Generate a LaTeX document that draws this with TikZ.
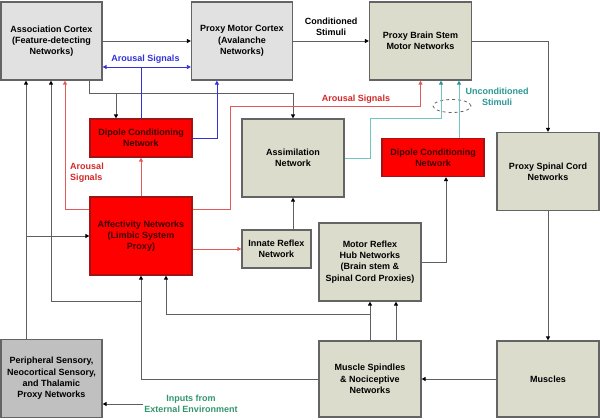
\documentclass[tikz,border=0pt]{standalone}
\usepackage{fontspec}
\setmainfont{Liberation Sans}
\usetikzlibrary{shapes.geometric, arrows.meta, positioning, calc}
\definecolor{cortex}{RGB}{225,225,225}
\definecolor{stem}{RGB}{219,220,203}
\definecolor{sensory}{RGB}{192,192,192}
\definecolor{limbic}{RGB}{255,0,0}
\definecolor{limbicdark}{RGB}{160,20,20}
\definecolor{limbictext}{RGB}{60,0,0}
\definecolor{edge}{RGB}{100,100,100}
\definecolor{wire}{RGB}{95,95,95}
\definecolor{arousal}{RGB}{228,90,90}
\definecolor{arousaltext}{RGB}{210,40,40}
\definecolor{signal}{RGB}{50,50,215}
\definecolor{uncond}{RGB}{115,195,190}
\definecolor{uncondtext}{RGB}{40,150,150}
\definecolor{envtext}{RGB}{50,150,110}
\tikzset{
    box/.style={rectangle, draw=edge, line width=1.2pt, align=center, font=\fontsize{9}{11.3}\selectfont\bfseries, inner sep=2pt},
    cortexbox/.style={box, fill=cortex, minimum width=101pt, minimum height=78pt},
    stembox/.style={box, fill=stem, minimum width=102pt, minimum height=78pt},
    dipolebox/.style={box, fill=limbic, draw=limbicdark, text=limbictext, minimum width=102pt, minimum height=38pt},
    limbicbox/.style={dipolebox, minimum height=78pt},
    groupring/.style={ellipse, draw=edge, dashed, line width=0.8pt, minimum width=38pt, minimum height=13pt, inner sep=0pt},
    lbl/.style={font=\fontsize{9}{11.3}\selectfont\bfseries, align=center, inner sep=1pt},
    arr/.style={-{Triangle[length=4pt, width=4pt, color=black]}, wire, line width=0.9pt},
    redarr/.style={-{Triangle[length=4pt, width=4pt]}, arousal, line width=0.9pt},
    bluearr/.style={-{Triangle[length=4pt, width=4pt]}, signal, line width=0.8pt},
    tealarr/.style={-{Triangle[length=4pt, width=4pt, color=uncondtext]}, uncond, line width=0.9pt}
}
\begin{document}
\begin{tikzpicture}[x=1pt, y=-1pt]
    \useasboundingbox (0,0) rectangle (600,420);
    % boxes
    \node[cortexbox] (assoc) at (51.5,41) {Association Cortex\\(Feature-detecting\\Networks)};
    \node[cortexbox] (pmc) at (242,41) {Proxy Motor Cortex\\(Avalanche\\Networks)};
    \node[stembox] (pbs) at (420.5,41) {Proxy Brain Stem\\Motor Networks};
    \node[dipolebox] (dipL) at (141,138) {Dipole Conditioning\\Network};
    \node[stembox] (assim) at (293,158) {Assimilation\\Network};
    \node[dipolebox] (dipR) at (433,157.5) {Dipole Conditioning\\Network};
    \node[stembox] (psc) at (548,171.5) {Proxy Spinal Cord\\Networks};
    \node[limbicbox] (affect) at (141,236) {Affectivity Networks\\(Limbic System\\Proxy)};
    \node[stembox, minimum width=69pt, minimum height=38pt] (innate) at (276.5,249) {Innate Reflex\\Network};
    \node[stembox] (mrh) at (370,262) {Motor Reflex\\Hub Networks\\(Brain stem \&\\Spinal Cord Proxies)};
    \node[cortexbox, fill=sensory] (periph) at (51.5,378.5) {Peripheral Sensory,\\Neocortical Sensory,\\and Thalamic\\Proxy Networks};
    \node[stembox, minimum height=76pt] (spindle) at (370,379) {Muscle Spindles\\\& Nociceptive\\Networks};
    \node[stembox, minimum height=76pt] (muscles) at (548,379) {Muscles};
    \node[groupring] (ring) at (452,106) {};

    % labels
    \node[lbl] (condlbl) at (331,27) {Conditioned\\Stimuli};
    \node[lbl, text=signal] (bluelbl) at (145.5,59) {Arousal Signals};
    \node[lbl, text=arousaltext] (redlbl) at (356,99) {Arousal Signals};
    \node[lbl, text=arousaltext, align=left] (redlbl2) at (87,173) {Arousal\\Signals};
    \node[lbl, text=uncondtext] (unclbl) at (497,97) {Unconditioned\\Stimuli};
    \node[lbl, text=envtext] (inp) at (191,404) {Inputs from\\External Environment};

    % junction points
    \coordinate (j1) at (89,93);
    \coordinate (j2) at (116,93);
    \coordinate (aru) at (141,67);
    \coordinate (r1) at (65,209);
    \coordinate (r2) at (230,106);
    \coordinate (t1) at (370,118);
    \coordinate (t2) at (441,118);
    \coordinate (t3) at (459,118);
    \coordinate (s1) at (370,314);
    \coordinate (s2) at (166,314);
    \coordinate (s3) at (141,301);
    \coordinate (s4) at (51,301);
    \coordinate (p1) at (26,236);

    % black connectors
    \draw[arr] (assoc) -- (pmc);
    \draw[arr] (pmc) -- (pbs);
    \draw[arr] (assoc.south -| j1) -- (j1) -| (assim.north);
    \draw[arr] (j2) -- (j2 |- dipL.north);
    \draw[arr] (innate.north -| assim) -- (assim.south);
    \draw[arr] (mrh.east) -| ($(dipR.south)+(13,0)$);
    \draw[arr] (pbs.east) -| (psc.north);
    \draw[arr] (psc) -- (muscles);
    \draw[arr] (muscles) -- (spindle);
    \draw[arr] (spindle.north) -- (mrh.south);
    \draw[arr] ($(spindle.north)+(26,0)$) -- ($(mrh.south)+(26,0)$);
    \draw[arr] (s1) -- (s2) -- (s2 |- affect.south);
    \draw[arr] (spindle.west) -| (affect.south);
    \draw[arr] (s3) -- (s4) -- (s4 |- assoc.south);
    \draw[arr] (p1 |- periph.north) -- (p1 |- assoc.south);
    \draw[arr] (p1) -- (affect.west);
    \draw[arr] (inp.west) -- (inp.west -| periph.east);

    % blue arousal signals
    \draw[bluearr, -] (dipL.north) -- (aru);
    \draw[bluearr, {Triangle[length=4pt, width=4pt]}-{Triangle[length=4pt, width=4pt]}] (aru -| assoc.east) -- (aru -| pmc.west);
    \draw[bluearr] (dipL.east) -| ($(pmc.south west)+(26,0)$);

    % red arousal signals
    \draw[redarr] (affect.north) -- (dipL.south);
    \draw[redarr] (affect.west |- r1) -- (r1) -- (r1 |- assoc.south);
    \draw[redarr] (affect.east |- r1) -| (r2) -| (pbs.south);
    \draw[redarr] (affect.east |- innate.west) -- (innate.west);

    % unconditioned stimuli
    \draw[tealarr] (assim.east) -| (t1) -- (t2) -- (t2 |- pbs.south);
    \draw[tealarr] (t3 |- dipR.north) -- (t3 |- pbs.south);
\end{tikzpicture}
\end{document}
